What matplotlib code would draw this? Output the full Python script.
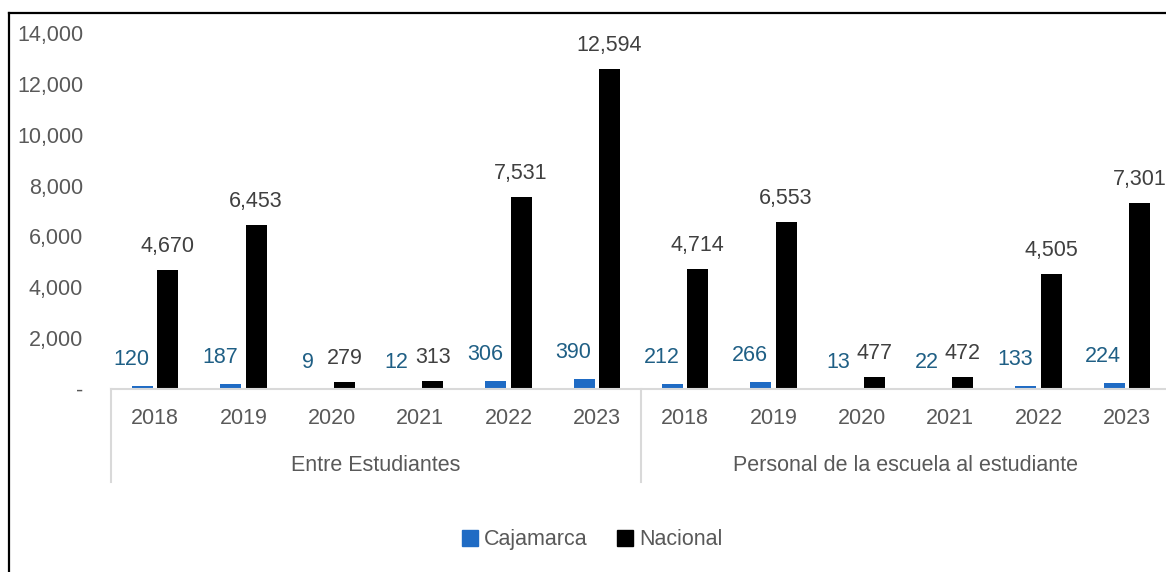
import numpy as np
import matplotlib
matplotlib.use("Agg")
import matplotlib.pyplot as plt
from matplotlib.lines import Line2D
from matplotlib.ticker import FuncFormatter

plt.rcParams['font.family'] = ['Liberation Sans', 'DejaVu Sans']

# Casos por año, separados por tipo de violencia
years = ['2018', '2019', '2020', '2021', '2022', '2023']
groups = ['Entre Estudiantes', 'Personal de la escuela al estudiante']
cajamarca = [120, 187, 9, 12, 306, 390, 212, 266, 13, 22, 133, 224]
nacional = [4670, 6453, 279, 313, 7531, 12594, 4714, 6553, 477, 472, 4505, 7301]

blue = '#1F6BC4'
blue_txt = '#1F5F85'
dark_txt = '#404040'
tick_txt = '#595959'
axis_gray = '#D9D9D9'
fs = 15.5

fig = plt.figure(figsize=(11.66, 5.72), dpi=100, facecolor='white')
ax = fig.add_axes((111 / 1166, 183 / 572, 1060 / 1166, 356 / 572))

x = np.arange(len(cajamarca))
w = 0.238
off = 0.142
ax.bar(x - off, cajamarca, width=w, color=blue, zorder=2)
ax.bar(x + off, nacional, width=w, color='black', zorder=2)

ax.set_xlim(-0.5, len(cajamarca) - 0.5)
ax.set_ylim(0, 14000)

# valores sobre las barras
for xi, v in zip(x, nacional):
    ax.annotate(f'{v:,}', (xi + off, v), xytext=(0, 17), textcoords='offset points',
                ha='center', va='center', fontsize=fs, color=dark_txt)
for xi, v in zip(x, cajamarca):
    ax.annotate(f'{v:,}', (xi - off, v), xytext=(-8, 19), textcoords='offset points',
                ha='center', va='center', fontsize=fs, color=blue_txt)

# eje y
ax.set_yticks(np.arange(0, 14001, 2000))
ax.yaxis.set_major_formatter(FuncFormatter(lambda v, p: '-' if v == 0 else f'{int(v):,}'))
ax.tick_params(axis='y', length=0, pad=20, labelsize=fs, labelcolor=tick_txt)
ax.set_xticks([])

for s in ['top', 'right', 'left']:
    ax.spines[s].set_visible(False)
ax.spines['bottom'].set_color(axis_gray)
ax.spines['bottom'].set_linewidth(1.5)

# etiquetas de categoría en dos niveles
tr = ax.get_xaxis_transform()
n = len(years)
for i in range(len(cajamarca)):
    ax.text(i, -0.0815, years[i % n], transform=tr, ha='center', va='center',
            fontsize=fs, color=tick_txt, clip_on=False)
for g, name in enumerate(groups):
    ax.text(g * n + (n - 1) / 2, -0.2135, name, transform=tr, ha='center', va='center',
            fontsize=fs, color=tick_txt, clip_on=False)
for b in [-0.5, n - 0.5, 2 * n - 0.5]:
    ax.plot([b, b], [0, -0.261], transform=tr, color=axis_gray, lw=1.5, clip_on=False)

handles = [Line2D([], [], marker='s', ls='none', markersize=11, color=blue, label='Cajamarca'),
           Line2D([], [], marker='s', ls='none', markersize=11, color='black', label='Nacional')]
fig.legend(handles=handles, loc='center', bbox_to_anchor=(0.508, 0.056), ncol=2,
           frameon=False, fontsize=fs, labelcolor=tick_txt, handlelength=0.7,
           handletextpad=0.3, columnspacing=1.4)

# marco exterior
fig.add_artist(Line2D([9 / 1166, 1.0], [1 - 13 / 572, 1 - 13 / 572], color='black', lw=1.6))
fig.add_artist(Line2D([9 / 1166, 9 / 1166], [0.0, 1 - 13 / 572], color='black', lw=1.6))

fig.savefig('out.png', dpi=100, facecolor='white')
